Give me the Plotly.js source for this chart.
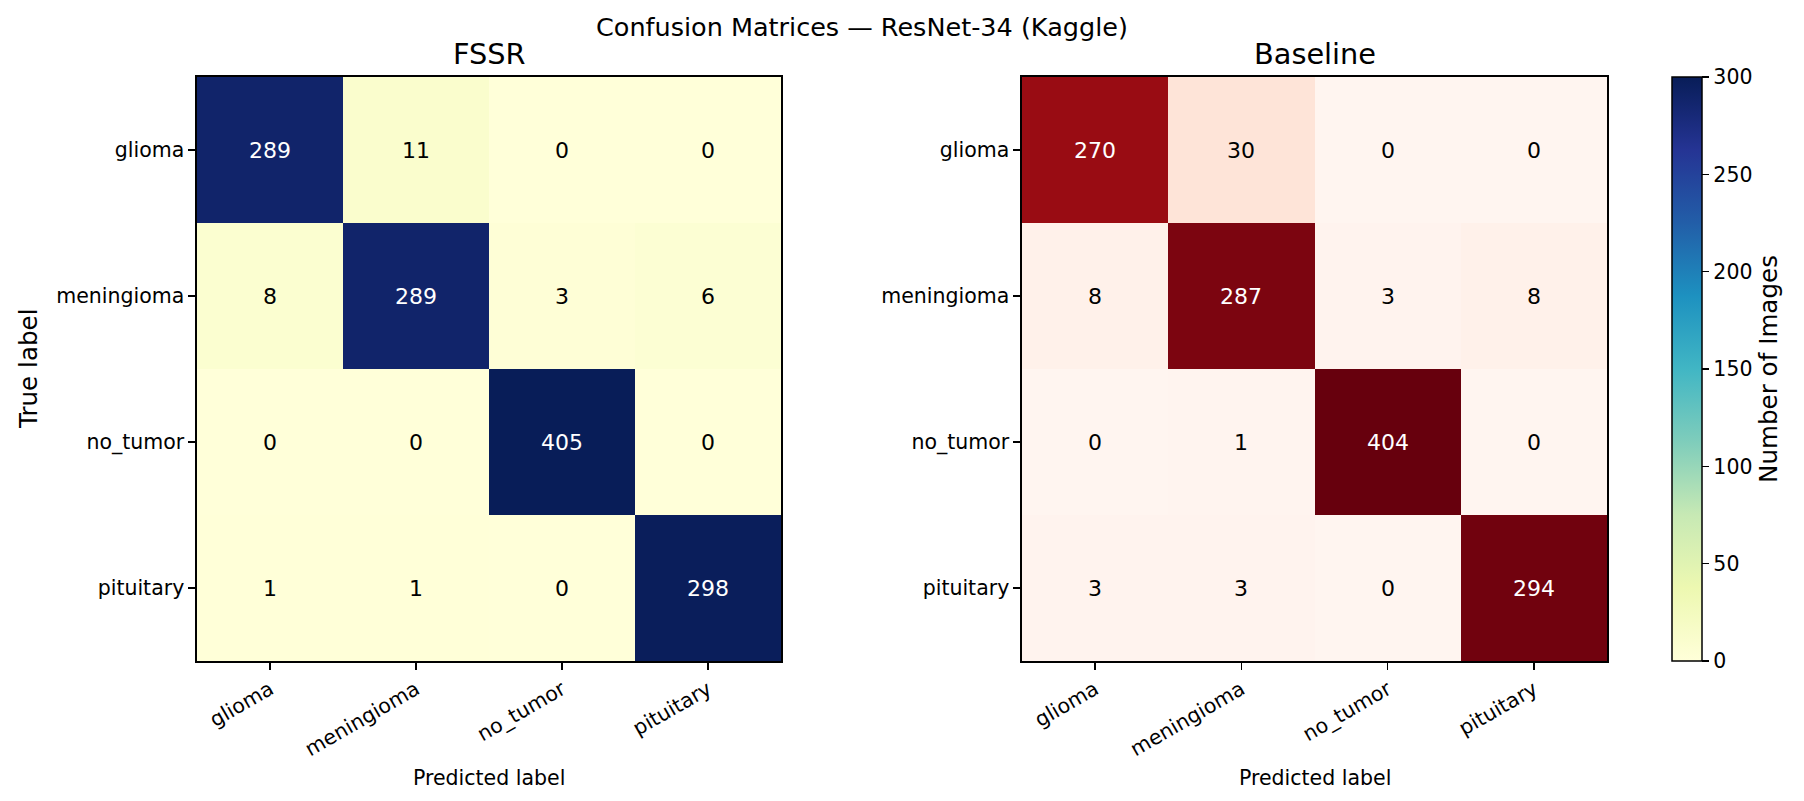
<!DOCTYPE html>
<html>
<head>
<meta charset="utf-8">
<script src="https://cdn.plot.ly/plotly-3.0.1.min.js"></script>
<style>html,body{margin:0;padding:0;background:#fff;}#chart{width:1804px;height:801px;}</style>
</head>
<body>
<div id="chart"></div>
<script>
// ---- data ----
const classes = ["glioma", "meningioma", "no_tumor", "pituitary"];
const fssrMatrix = [
  [289, 11, 0, 0],
  [8, 289, 3, 6],
  [0, 0, 405, 0],
  [1, 1, 0, 298]
];
const baselineMatrix = [
  [270, 30, 0, 0],
  [8, 287, 3, 8],
  [0, 1, 404, 0],
  [3, 3, 0, 294]
];
const colorbarTicks = [0, 50, 100, 150, 200, 250, 300];
const suptitleText = "Confusion Matrices — ResNet-34 (Kaggle)";
const panelTitles = ["FSSR", "Baseline"];

// ---- styling ----
const FONT = "DejaVu Sans";
const W = 1804, H = 801;
const px = v => v / W;
const py = v => 1 - v / H;

const ylgnbu = ['#ffffd9','#edf8b1','#c7e9b4','#7fcdbb','#41b6c4','#1d91c0','#225ea8','#253494','#081d58']
  .map((c, i, a) => [i / (a.length - 1), c]);
const reds = ['#fff5f0','#fee0d2','#fcbba1','#fc9272','#fb6a4a','#ef3b2c','#cb181d','#a50f15','#67000d']
  .map((c, i, a) => [i / (a.length - 1), c]);

const zmax = 300;

const traces = [
  {
    type: 'heatmap', x: classes, y: classes, z: fssrMatrix,
    xaxis: 'x', yaxis: 'y', colorscale: ylgnbu, zmin: 0, zmax: zmax,
    hoverinfo: 'skip',
    colorbar: {
      x: px(1672), xanchor: 'left', xpad: 0,
      y: py(661), yanchor: 'bottom', ypad: 0,
      len: 584 / H, lenmode: 'fraction',
      thickness: 30, thicknessmode: 'pixels',
      outlinewidth: 1.5, outlinecolor: '#000',
      ticks: 'outside', ticklen: 7, tickwidth: 1.6, tickcolor: '#000',
      tickvals: colorbarTicks,
      tickfont: { family: FONT, size: 20.5, color: '#000' },
      title: { text: 'Number of Images', side: 'right', font: { family: FONT, size: 24.6, color: '#000' } }
    }
  },
  {
    type: 'heatmap', x: classes, y: classes, z: baselineMatrix,
    xaxis: 'x2', yaxis: 'y2', colorscale: reds, zmin: 0, zmax: zmax,
    showscale: false, hoverinfo: 'skip'
  }
];

function cellAnnotations(matrix, xref, yref) {
  const thresh = Math.max(...matrix.flat()) / 2;
  const out = [];
  matrix.forEach((row, i) => row.forEach((v, j) => {
    out.push({
      x: classes[j], y: classes[i], xref: xref, yref: yref,
      text: String(v), showarrow: false,
      font: { family: FONT, size: 22, color: v > thresh ? '#ffffff' : '#000000' }
    });
  }));
  return out;
}

const axisCommon = {
  type: 'category', showgrid: false, zeroline: false,
  showline: true, mirror: true, linecolor: '#000', linewidth: 1.6,
  ticks: 'outside', ticklen: 7, tickwidth: 1.6, tickcolor: '#000',
  tickfont: { family: FONT, size: 20.5, color: '#000' },
  fixedrange: true
};

const titleFont = { family: FONT, size: 28.8, color: '#000' };
const ylabelFont = { family: FONT, size: 24.6, color: '#000' };
const labelFont = { family: FONT, size: 20.5, color: '#000' };

const annotations = [
  { text: suptitleText, x: px(862), y: py(27), xref: 'paper', yref: 'paper', showarrow: false,
    xanchor: 'center', yanchor: 'middle', font: { family: FONT, size: 25.5, color: '#000' } },
  { text: panelTitles[0], x: px(489), y: py(54), xref: 'paper', yref: 'paper', showarrow: false,
    xanchor: 'center', yanchor: 'middle', font: titleFont },
  { text: panelTitles[1], x: px(1314.5), y: py(54), xref: 'paper', yref: 'paper', showarrow: false,
    xanchor: 'center', yanchor: 'middle', font: titleFont },
  { text: 'True label', x: px(28), y: py(369), xref: 'paper', yref: 'paper', showarrow: false,
    xanchor: 'center', yanchor: 'middle', textangle: -90, font: ylabelFont },
  { text: 'Predicted label', x: px(489), y: py(778), xref: 'paper', yref: 'paper', showarrow: false,
    xanchor: 'center', yanchor: 'middle', font: labelFont },
  { text: 'Predicted label', x: px(1314.5), y: py(778), xref: 'paper', yref: 'paper', showarrow: false,
    xanchor: 'center', yanchor: 'middle', font: labelFont }
].concat(cellAnnotations(fssrMatrix, 'x', 'y'), cellAnnotations(baselineMatrix, 'x2', 'y2'));

const layout = {
  width: W, height: H,
  margin: { l: 0, r: 0, t: 0, b: 0, pad: 0 },
  paper_bgcolor: '#fff', plot_bgcolor: '#fff',
  showlegend: false,
  xaxis: Object.assign({}, axisCommon, { domain: [px(197), px(781)], anchor: 'y', tickangle: -30 }),
  yaxis: Object.assign({}, axisCommon, { domain: [py(661), py(77)], anchor: 'x', autorange: 'reversed' }),
  xaxis2: Object.assign({}, axisCommon, { domain: [px(1022), px(1607)], anchor: 'y2', tickangle: -30 }),
  yaxis2: Object.assign({}, axisCommon, { domain: [py(661), py(77)], anchor: 'x2', autorange: 'reversed' }),
  annotations: annotations
};

Plotly.newPlot('chart', traces, layout, { displayModeBar: false, staticPlot: true });
</script>
</body>
</html>
